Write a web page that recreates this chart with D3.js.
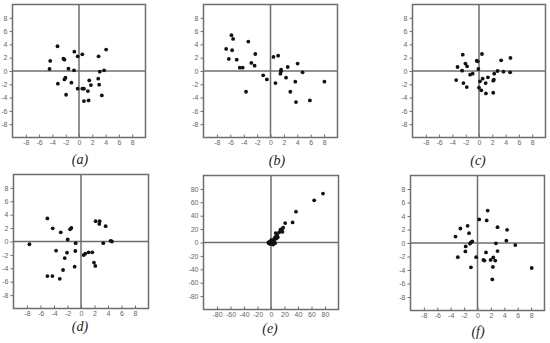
<!DOCTYPE html>
<html><head><meta charset="utf-8">
<script src="https://cdn.jsdelivr.net/npm/d3@7"></script>
<style>body{margin:0;background:#fff}svg{display:block}</style>
</head><body>
<script>
const panelLabels = ["(a)","(b)","(c)","(d)","(e)","(f)"];
const ticksSmall = [-8,-6,-4,-2,0,2,4,6,8];
const ticksLarge = [-80,-60,-40,-20,0,20,40,60,80];

const dataA = [[-3.23,3.72],[-4.33,1.51],[-4.43,0.30],[-2.34,1.86],[-2.19,1.71],[-0.70,2.91],[-0.20,2.21],[0.50,2.51],[-1.59,0.35],[-0.75,0.10],[-3.18,-1.91],[-2.04,-1.0],[-2.19,-1.26],[-1.14,-1.76],[-1.94,-3.57],[-0.20,-2.66],[0.50,-2.66],[0.75,-2.66],[0.75,-4.52],[1.44,-4.42],[1.34,-3.02],[1.54,-1.41],[1.79,-2.11],[2.89,-1.16],[3.03,-2.06],[2.94,2.21],[3.13,-0.10],[3.78,0.10],[4.08,3.22],[3.43,-3.67]];
const dataB = [[-5.83,5.38],[-5.58,4.82],[-6.62,3.32],[-5.73,3.12],[-6.22,1.81],[-5.04,1.71],[-3.31,4.42],[-2.27,2.56],[-2.86,1.21],[-2.37,0.80],[-4.59,0.50],[-4.15,0.50],[-3.65,-3.12],[-1.09,-0.65],[-0.54,-1.26],[0.44,2.11],[1.14,2.31],[0.74,-1.81],[1.58,0.20],[1.58,-0.05],[1.48,-0.40],[2.57,0.60],[2.32,-1.0],[4.05,1.11],[4.79,-0.20],[3.70,-1.61],[2.96,-3.12],[3.80,-4.67],[5.88,-4.42],[8.05,-1.61]];
const dataC = [[-2.44,2.46],[0.45,2.56],[-3.23,0.60],[-2.04,1.11],[-1.79,0.70],[-2.54,0.05],[-3.43,-1.36],[-1.34,-0.55],[-0.95,-0.40],[-0.35,1.56],[-0.20,1.46],[-0.10,0.30],[-2.34,-1.81],[-1.84,-2.41],[0,-2.51],[0.35,-2.91],[0.15,-1.56],[0.55,-1.16],[1.00,-1.81],[1.34,-0.95],[1.04,-3.37],[2.14,-3.27],[2.24,-1.31],[2.14,-1.46],[2.29,-0.40],[2.79,0.0],[3.33,1.61],[3.68,-0.10],[4.68,-0.20],[4.73,1.96]];
const dataD = [[-4.98,3.44],[-4.19,1.97],[-3.00,1.37],[-1.63,1.82],[-1.43,2.03],[-1.97,0.30],[-0.79,-0.25],[-7.64,-0.41],[-3.69,-1.37],[-2.07,-1.67],[-2.41,-2.48],[-0.84,-1.42],[-2.66,-4.25],[-0.94,-3.75],[-4.98,-5.16],[-4.24,-5.16],[-3.15,-5.57],[0.39,-2.03],[0.64,-1.82],[1.13,-1.62],[1.67,-1.62],[1.92,-3.14],[2.12,-3.65],[2.17,3.04],[2.76,3.04],[2.71,2.63],[3.65,2.28],[3.30,-0.25],[4.38,0.10],[4.58,0.0]];
const dataE = [[7,14],[9,11],[12,15],[14,19],[16,20],[18,22],[17,16],[10,8],[8,6],[5,5],[6,8],[21,29],[32,30],[37,46],[64,63],[77,73],[-3,-1],[-2,1],[-1,-2],[0,0],[1,2],[2,-1],[3,1],[4,-2],[5,0],[-4,0],[0,3],[2,4],[-1,1],[6,-1],[3,-3],[1,-1],[-2,-2],[4,2]];
const dataF = [[1.52,4.8],[0.25,3.5],[1.37,3.35],[2.99,2.35],[4.41,1.95],[-1.47,2.55],[-2.55,2.15],[-1.27,1.45],[-3.28,0.95],[-0.78,0.25],[-0.98,0.10],[-1.13,-0.10],[-1.76,-0.50],[-1.81,-1.25],[-2.94,-2.10],[-0.20,-2.10],[-0.98,-3.60],[1.27,-1.40],[0.88,-2.50],[1.03,-2.60],[1.96,-2.50],[2.35,-2.15],[2.65,-2.60],[2.30,-3.55],[2.21,-5.40],[2.75,-0.05],[2.99,-1.20],[4.31,0.35],[5.64,-0.30],[8.09,-3.70]];

const W = 550, H = 343;
const svg = d3.select("body").append("svg").attr("width", W).attr("height", H);

const panels = [
  {data: dataA, dom: 10, ticks: ticksSmall, box: [12.5, 4.5, 145.5, 137.5], lab: [80, 164]},
  {data: dataB, dom: 10, ticks: ticksSmall, box: [203.5, 4.5, 337.5, 137.5], lab: [277, 165]},
  {data: dataC, dom: 10, ticks: ticksSmall, box: [412.5, 4.5, 545.5, 137.5], lab: [478, 165]},
  {data: dataD, dom: 10, ticks: ticksSmall, box: [13.5, 174.5, 148.5, 308.5], lab: [80, 331]},
  {data: dataE, dom: 100, ticks: ticksLarge, box: [203.5, 175.5, 338.5, 309.5], lab: [270, 333]},
  {data: dataF, dom: 10, ticks: ticksSmall, box: [410.5, 175.5, 544.5, 310.5], lab: [478, 336]}
];

const gray = "#6e6e6e";
const tickFont = "Arial, 'Liberation Sans', sans-serif";
panels.forEach((p, i) => {
  const [x0, y0, x1, y1] = p.box;
  const x = d3.scaleLinear().domain([-p.dom, p.dom]).range([x0, x1]);
  const y = d3.scaleLinear().domain([-p.dom, p.dom]).range([y1, y0]);
  const g = svg.append("g");

  const xa = g.append("g").attr("transform", `translate(0,${y1})`)
    .call(d3.axisBottom(x).tickValues(p.ticks).tickFormat(d => String(d)).tickSizeInner(-3).tickSizeOuter(0).tickPadding(3));
  xa.select(".domain").remove();
  xa.selectAll("line").attr("stroke", gray);
  xa.selectAll("text").attr("fill", "#666").style("font-family", tickFont).style("font-size", "7px");

  const ya = g.append("g").attr("transform", `translate(${x0},0)`)
    .call(d3.axisLeft(y).tickValues(p.ticks).tickFormat(d => String(d)).tickSizeInner(3).tickSizeOuter(0).tickPadding(2));
  ya.select(".domain").remove();
  ya.selectAll("line").attr("stroke", gray);
  ya.selectAll("text").attr("fill", "#666").style("font-family", tickFont).style("font-size", "7px");

  g.append("line").attr("x1", x(0)).attr("x2", x(0)).attr("y1", y0).attr("y2", y1)
    .attr("stroke", gray).attr("stroke-width", 1.5);
  g.append("line").attr("x1", x0).attr("x2", x1).attr("y1", y(0)).attr("y2", y(0))
    .attr("stroke", gray).attr("stroke-width", 1.5);

  g.append("rect").attr("x", x0).attr("y", y0).attr("width", x1 - x0).attr("height", y1 - y0)
    .attr("fill", "none").attr("stroke", gray).attr("stroke-width", 1.5);

  g.selectAll("circle.pt").data(p.data).join("circle").attr("class", "pt")
    .attr("cx", d => x(d[0])).attr("cy", d => y(d[1])).attr("r", 1.9).attr("fill", "#111");

  svg.append("text").attr("x", p.lab[0]).attr("y", p.lab[1])
    .attr("text-anchor", "middle")
    .style("font-family", "'Liberation Serif', 'DejaVu Serif', serif")
    .style("font-style", "italic").style("font-size", "14px").attr("fill", "#222")
    .text(panelLabels[i]);
});
</script>
</body></html>
